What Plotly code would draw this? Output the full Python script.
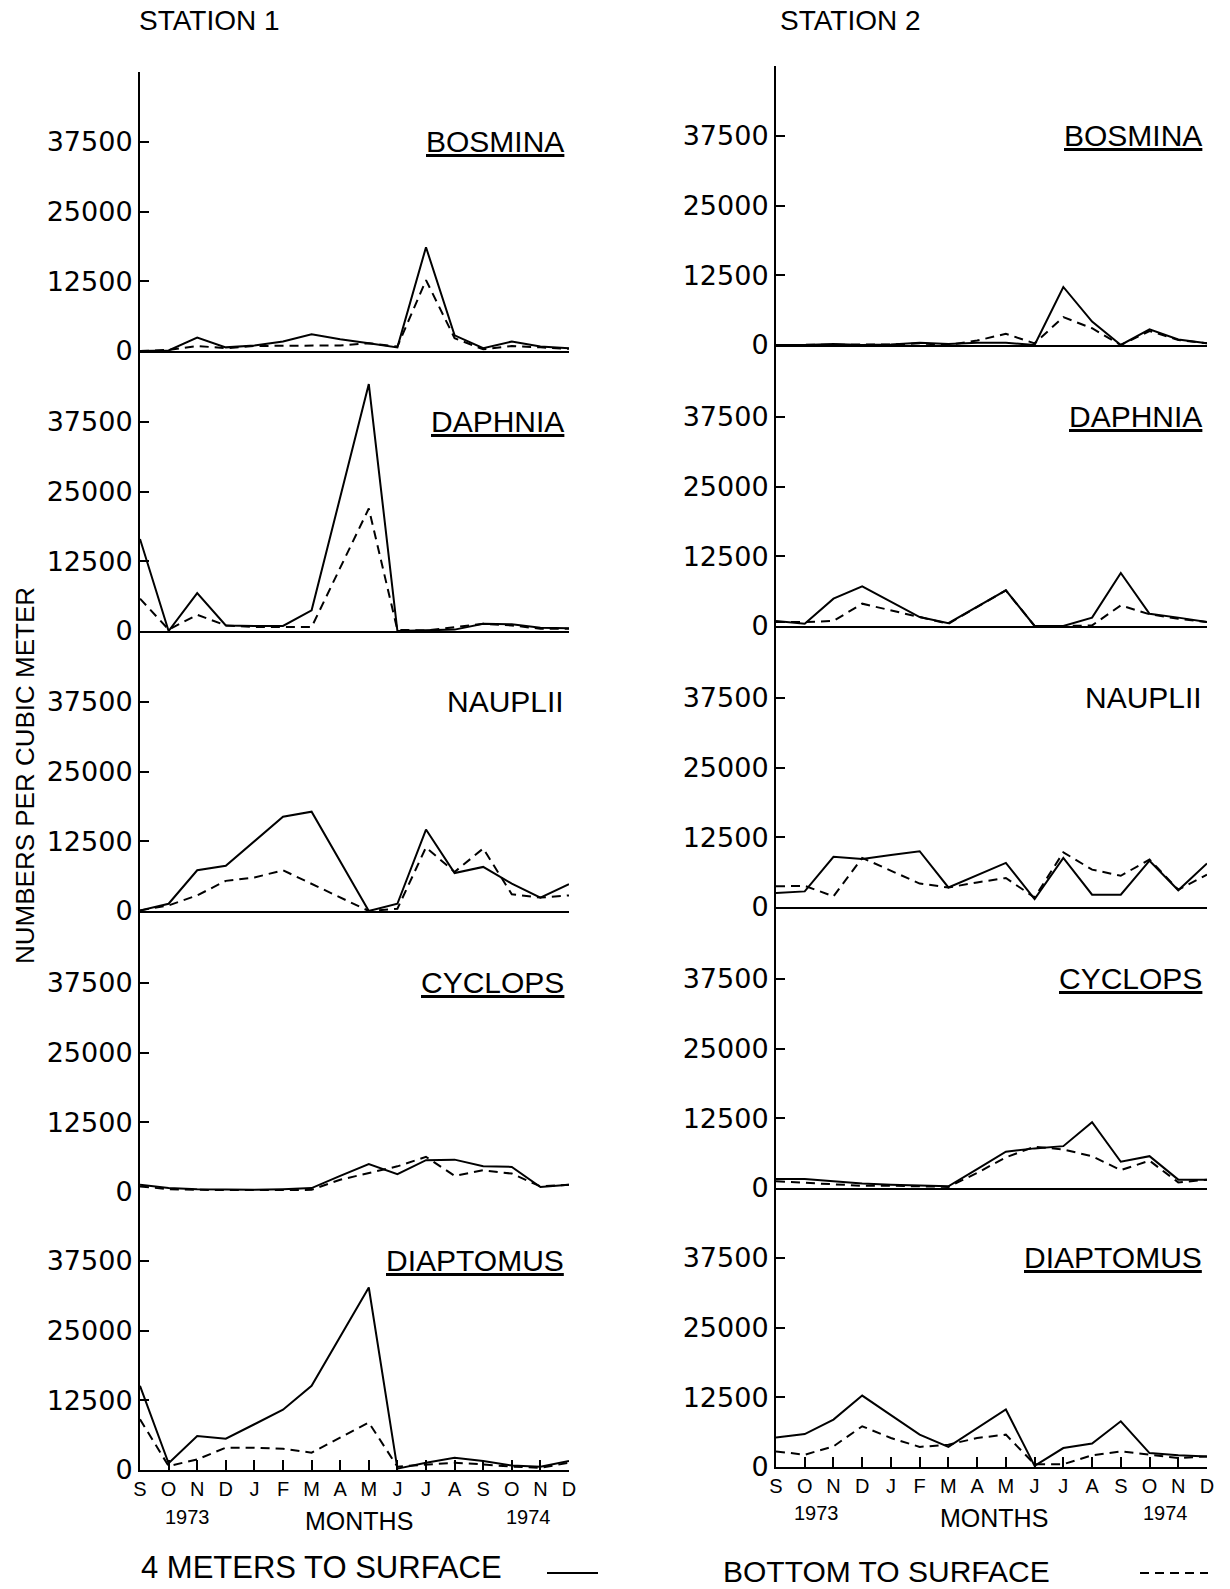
import plotly.graph_objects as go

# ---------------- data ----------------
months = ["S", "O", "N", "D", "J", "F", "M", "A", "M", "J", "J", "A", "S", "O", "N", "D"]
month_index = list(range(len(months)))
y_ticks = [0, 12500, 25000, 37500]
y_tick_labels = ["0", "12500", "25000", "37500"]
species = ["BOSMINA", "DAPHNIA", "NAUPLII", "CYCLOPS", "DIAPTOMUS"]
underlined = [True, True, False, True, True]

# Station 1 : "4 meters to surface" (solid) and "bottom to surface" (dashed)
st1_bosmina_4m = [0, 100, 2400, 650, 1000, 1700, 3000, 2100, 1400, 650, 18600, 2800, 500, 1700, 800, 500]
st1_bosmina_bt = [0, 200, 900, 500, 900, 900, 900, 1000, 1400, 800, 12700, 2300, 300, 900, 650, 400]
st1_daphnia_4m = [16500, 0, 6800, 1000, 900, 900, 3700, None, 44250, 0, 100, 250, 1300, 1200, 600, 500]
st1_daphnia_bt = [5800, 250, 2900, 1000, 700, 700, 700, None, 21950, 200, 100, 700, 1300, 1000, 400, 400]
st1_nauplii_4m = [100, 1300, 7300, 8100, None, 16900, 17800, None, 0, 1300, 14600, 6800, 7900, 4900, 2400, 4800]
st1_nauplii_bt = [100, 1000, 2800, 5400, 6000, 7300, None, None, 0, 400, 11400, 7000, 11200, 3000, 2400, 2800]
st1_cyclops_4m = [1300, 700, 500, 400, 400, 500, 700, 2900, 5000, 3200, 5700, 5800, 4600, 4500, 900, 1300]
st1_cyclops_bt = [1000, 500, 400, 300, 300, 300, 400, 2200, 3400, 4600, 6300, 2900, 3900, 3300, 1000, 1300]
st1_diaptomus_4m = [15100, 1200, 6100, 5600, 8200, 10800, 15100, None, 32700, 250, 1300, 2200, 1600, 800, 600, 1600]
st1_diaptomus_bt = [9100, 700, 1900, 4000, 4000, 3800, 3100, None, 8500, 600, 1000, 1300, 1000, 600, 400, 1300]

# Station 2
st2_bosmina_4m = [0, 0, 200, 0, 100, 400, 200, 400, 400, 0, 10400, 4200, 0, 2800, 1000, 300]
st2_bosmina_bt = [0, 0, 100, 0, 100, 300, 0, 800, 2000, 300, 5000, 3000, 0, 2500, 900, 300]
st2_daphnia_4m = [900, 400, 4900, 7100, None, 1600, 500, None, 6400, 0, 0, 1500, 9500, 2200, 1500, 700]
st2_daphnia_bt = [700, 700, 900, 4000, None, 1600, 400, None, 6400, 0, 0, 100, 3700, 2100, 1300, 700]
st2_nauplii_4m = [2500, 2800, 9000, 8600, 9300, 10000, 3500, None, 7900, 1400, 8800, 2200, 2200, 8300, 3000, 7800]
st2_nauplii_bt = [3700, 3800, 1900, 8800, None, 4200, 3500, 4400, 5200, 1700, 9800, 6700, 5600, 8500, 3100, 5800]
st2_cyclops_4m = [1600, 1600, 1200, 800, 600, 400, 300, 3400, 6500, 7100, 7500, 11800, 4700, 5700, 1500, 1500]
st2_cyclops_bt = [1200, 900, 600, 400, 400, 300, 200, 2700, 5500, 7400, 6900, 5700, 3200, 4900, 1000, 1500]
st2_diaptomus_4m = [5300, 5900, 8500, 12800, 9300, 5800, 3600, 6900, 10300, 200, 3400, 4200, 8200, 2500, 2100, 1900]
st2_diaptomus_bt = [2800, 2200, 3700, 7300, 5200, 3600, 4000, 5200, 5800, 500, 500, 2100, 2800, 2200, 1600, 1900]

station1 = [(st1_bosmina_4m, st1_bosmina_bt), (st1_daphnia_4m, st1_daphnia_bt),
            (st1_nauplii_4m, st1_nauplii_bt), (st1_cyclops_4m, st1_cyclops_bt),
            (st1_diaptomus_4m, st1_diaptomus_bt)]
station2 = [(st2_bosmina_4m, st2_bosmina_bt), (st2_daphnia_4m, st2_daphnia_bt),
            (st2_nauplii_4m, st2_nauplii_bt), (st2_cyclops_4m, st2_cyclops_bt),
            (st2_diaptomus_4m, st2_diaptomus_bt)]

# ---------------- layout geometry (pixels) ----------------
W, H = 1230, 1589
PANEL_H = 279
st1_x = (140, 569)
st2_x = (776, 1207)
st1_zero = [351, 631, 911, 1192, 1470]
st2_zero = [345, 626, 907, 1188, 1467]

def px_x(p):
    return p / W

def px_y(p):
    return 1 - p / H

FONT = "Liberation Sans, Arial, sans-serif"
TICKFONT = dict(family="DejaVu Sans, Liberation Sans, sans-serif", size=27, color="black")

fig = go.Figure()
layout = dict(
    template="none",
    width=W, height=H, margin=dict(l=0, r=0, t=0, b=0, autoexpand=False),
    paper_bgcolor="white", plot_bgcolor="white", showlegend=False,
)
annotations = []

n = 0
for col, (data, xr, zeros) in enumerate([(station1, st1_x, st1_zero), (station2, st2_x, st2_zero)]):
    for row in range(5):
        n += 1
        xa = "xaxis" if n == 1 else f"xaxis{n}"
        ya = "yaxis" if n == 1 else f"yaxis{n}"
        xref = "x" if n == 1 else f"x{n}"
        yref = "y" if n == 1 else f"y{n}"
        bottom = row == 4
        top = row == 0
        layout[xa] = dict(
            domain=[px_x(xr[0]), px_x(xr[1])], anchor=yref, range=[0, 15], automargin=False,
            showline=True, linecolor="black", linewidth=2, showgrid=False, zeroline=False,
            tickvals=month_index, ticktext=months,
            ticks="inside" if bottom else "", ticklen=10, tickwidth=2, tickcolor="black",
            showticklabels=bottom,
            tickfont=dict(family=FONT, size=20, color="black"),
        )
        tv = y_ticks + ([50000] if top else [])
        tt = y_tick_labels + ([""] if top else [])
        z = zeros[row]
        layout[ya] = dict(
            domain=[px_y(z), px_y(z - PANEL_H)], anchor=xref, range=[0, 50000], automargin=False,
            showline=True, linecolor="black", linewidth=2, showgrid=False, zeroline=False,
            tickvals=tv, ticktext=tt, ticks="inside", ticklen=9, tickwidth=2, tickcolor="black",
            tickfont=TICKFONT,
        )
        solid, dashed = data[row]
        fig.add_trace(go.Scatter(x=month_index, y=solid, mode="lines", connectgaps=True,
                                 line=dict(color="black", width=2), xaxis=xref, yaxis=yref,
                                 name="4 METERS TO SURFACE"))
        fig.add_trace(go.Scatter(x=month_index, y=dashed, mode="lines", connectgaps=True,
                                 line=dict(color="black", width=2, dash="9px,6px"),
                                 xaxis=xref, yaxis=yref, name="BOTTOM TO SURFACE"))
        label = species[row]
        txt = f"<u>{label}</u>" if underlined[row] else label
        annotations.append(dict(x=15, y=37500, xref=xref, yref=yref, text=txt, showarrow=False,
                                xanchor="right", yanchor="middle", xshift=-3,
                                font=dict(family=FONT, size=30, color="black")))

def paper_text(text, x, y, size, family=FONT, xanchor="center", angle=0):
    annotations.append(dict(x=px_x(x), y=px_y(y), xref="paper", yref="paper", text=text,
                            showarrow=False, xanchor=xanchor, yanchor="middle", textangle=angle,
                            font=dict(family=family, size=size, color="black")))

paper_text("STATION 1", 209, 21, 28)
paper_text("STATION 2", 850, 21, 28)
paper_text("NUMBERS PER CUBIC METER", 25, 776, 26, angle=-90)
paper_text("1973", 187, 1517, 20)
paper_text("MONTHS", 359, 1521, 25)
paper_text("1974", 528, 1517, 20)
paper_text("1973", 816, 1513, 20)
paper_text("MONTHS", 994, 1518, 25)
paper_text("1974", 1165, 1513, 20)
paper_text("4 METERS TO SURFACE", 139, 1567, 31, xanchor="left")
paper_text("BOTTOM TO SURFACE", 721, 1571, 30, xanchor="left")

layout["annotations"] = annotations
layout["shapes"] = [
    dict(type="line", xref="paper", yref="paper", x0=px_x(547), x1=px_x(598),
         y0=px_y(1573), y1=px_y(1573), line=dict(color="black", width=2)),
    dict(type="line", xref="paper", yref="paper", x0=px_x(1140), x1=px_x(1208),
         y0=px_y(1573), y1=px_y(1573), line=dict(color="black", width=2, dash="9px,6px")),
]
fig.update_layout(**layout)
fig.write_html("out.html", config={"displayModeBar": False},
               post_script="document.body.style.margin='0';document.body.style.overflow='hidden';")
